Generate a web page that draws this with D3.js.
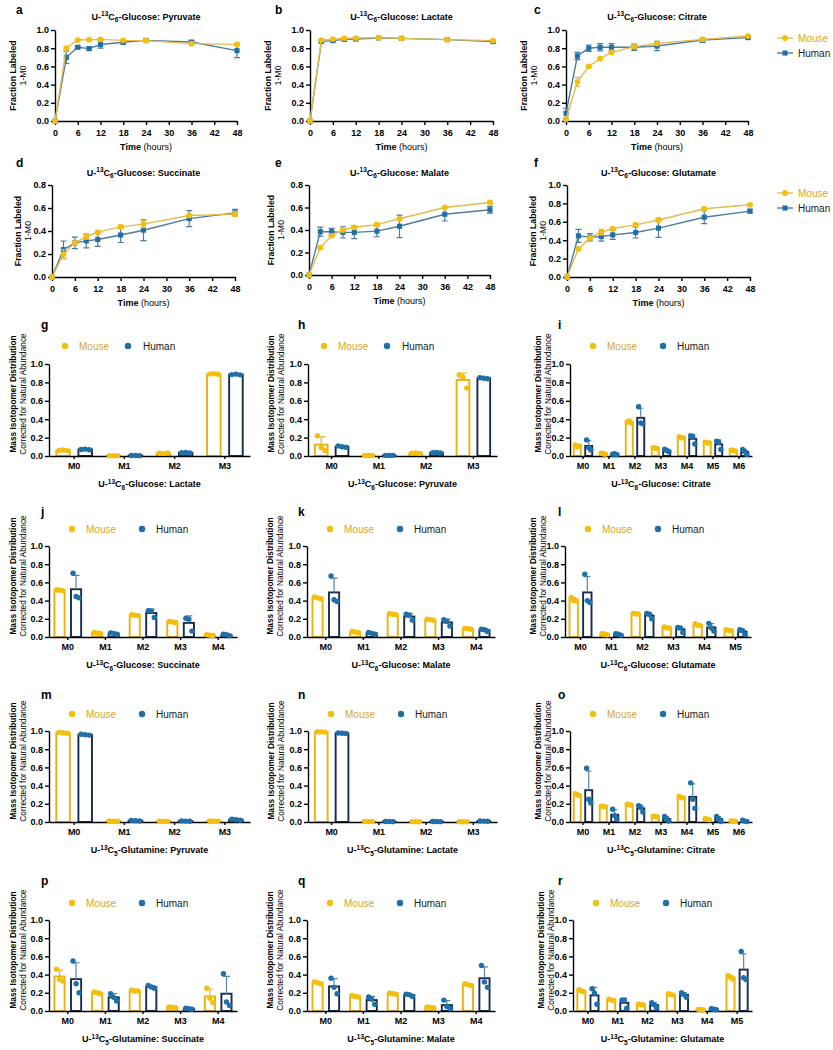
<!DOCTYPE html>
<html>
<head>
<meta charset="utf-8">
<script src="https://cdn.jsdelivr.net/npm/d3@7"></script>
<style>
body { margin: 0; background: #fff; }
.axis path, .axis line { stroke: #000; stroke-width: 1.4; }
.axis text { font-size: 9px; font-weight: bold; fill: #000; font-family: "Liberation Sans", Arial, sans-serif; }
</style>
</head>
<body>
<div id="fig"></div>
<script>
// ---- data ----
var hours = [0, 3, 6, 9, 12, 18, 24, 36, 48];
var hourTicks = [0, 6, 12, 18, 24, 30, 36, 42, 48];
var isotopologues = ["M0", "M1", "M2", "M3", "M4", "M5", "M6"];

// U-13C6-glucose time courses, fraction labeled (1-M0), mean and SD
var pyruvateMouse = [0, 0.80, 0.89, 0.894, 0.897, 0.886, 0.883, 0.85, 0.842];
var pyruvateMouseSd = [0, 0.012, 0.008, 0.006, 0.006, 0.008, 0.006, 0.008, 0.012];
var pyruvateHuman = [0, 0.70, 0.81, 0.795, 0.84, 0.865, 0.886, 0.868, 0.773];
var pyruvateHumanSd = [0, 0.068, 0.012, 0.02, 0.04, 0.02, 0.012, 0.015, 0.077];

var lactateMouse = [0, 0.89, 0.90, 0.908, 0.912, 0.916, 0.908, 0.894, 0.883];
var lactateMouseSd = [0, 0.01, 0.008, 0.008, 0.008, 0.008, 0.008, 0.008, 0.008];
var lactateHuman = [0, 0.875, 0.883, 0.897, 0.90, 0.912, 0.908, 0.894, 0.872];
var lactateHumanSd = [0, 0.012, 0.01, 0.01, 0.01, 0.008, 0.008, 0.008, 0.01];

var citrateMouse = [0.02, 0.43, 0.60, 0.685, 0.755, 0.817, 0.853, 0.897, 0.934];
var citrateMouseSd = [0.01, 0.05, 0.01, 0.01, 0.01, 0.01, 0.015, 0.01, 0.01];
var citrateHuman = [0.085, 0.714, 0.80, 0.81, 0.81, 0.81, 0.824, 0.89, 0.916];
var citrateHumanSd = [0.055, 0.04, 0.035, 0.04, 0.04, 0.035, 0.05, 0.025, 0.01];

var succinateMouse = [0, 0.198, 0.297, 0.35, 0.39, 0.436, 0.46, 0.535, 0.547];
var succinateMouseSd = [0, 0.04, 0.01, 0.02, 0.01, 0.015, 0.03, 0.01, 0.02];
var succinateHuman = [0, 0.238, 0.297, 0.314, 0.326, 0.365, 0.407, 0.508, 0.558];
var succinateHumanSd = [0, 0.075, 0.05, 0.06, 0.06, 0.065, 0.09, 0.07, 0.03];

var malateMouse = [0, 0.244, 0.351, 0.40, 0.424, 0.448, 0.50, 0.60, 0.645];
var malateMouseSd = [0, 0.01, 0.01, 0.01, 0.01, 0.015, 0.01, 0.01, 0.01];
var malateHuman = [0, 0.385, 0.385, 0.379, 0.379, 0.39, 0.433, 0.54, 0.58];
var malateHumanSd = [0, 0.04, 0.03, 0.05, 0.055, 0.05, 0.1, 0.06, 0.03];

var glutamateMouse = [0, 0.305, 0.425, 0.487, 0.527, 0.567, 0.62, 0.742, 0.785];
var glutamateMouseSd = [0, 0.01, 0.01, 0.03, 0.01, 0.02, 0.02, 0.01, 0.01];
var glutamateHuman = [0, 0.447, 0.433, 0.44, 0.458, 0.484, 0.531, 0.65, 0.716];
var glutamateHumanSd = [0, 0.07, 0.04, 0.05, 0.05, 0.06, 0.1, 0.07, 0.02];

// mass isotopomer distributions, three replicates per isotopologue
var glcLactateMouse = [[0.060, 0.065, 0.058], [0.002, 0.003, 0.004], [0.030, 0.028, 0.032], [0.890, 0.895, 0.888]];
var glcLactateHuman = [[0.070, 0.075, 0.068], [0.005, 0.006, 0.004], [0.035, 0.038, 0.033], [0.885, 0.890, 0.882]];
var glcPyruvateMouse = [[0.22, 0.09, 0.06], [0.004, 0.005, 0.006], [0.030, 0.032, 0.028], [0.88, 0.86, 0.74]];
var glcPyruvateHuman = [[0.110, 0.100, 0.095], [0.006, 0.005, 0.007], [0.035, 0.038, 0.032], [0.850, 0.845, 0.840]];
var glcCitrateMouse = [[0.12, 0.10, 0.11], [0.03, 0.025, 0.02], [0.37, 0.38, 0.36], [0.09, 0.085, 0.08], [0.21, 0.20, 0.195], [0.15, 0.14, 0.145], [0.065, 0.06, 0.055]];
var glcCitrateHuman = [[0.175, 0.09, 0.065], [0.02, 0.025, 0.015], [0.535, 0.36, 0.35], [0.075, 0.06, 0.045], [0.22, 0.21, 0.13], [0.16, 0.15, 0.07], [0.07, 0.05, 0.015]];
var glcSuccinateMouse = [[0.52, 0.515, 0.51], [0.05, 0.045, 0.04], [0.245, 0.24, 0.235], [0.17, 0.165, 0.16], [0.025, 0.02, 0.015]];
var glcSuccinateHuman = [[0.70, 0.445, 0.43], [0.045, 0.04, 0.03], [0.29, 0.285, 0.215], [0.205, 0.195, 0.065], [0.03, 0.025, 0.015]];
var glcMalateMouse = [[0.44, 0.43, 0.42], [0.06, 0.055, 0.05], [0.255, 0.25, 0.245], [0.195, 0.19, 0.185], [0.095, 0.09, 0.085]];
var glcMalateHuman = [[0.67, 0.41, 0.39], [0.05, 0.04, 0.03], [0.25, 0.24, 0.185], [0.19, 0.17, 0.12], [0.085, 0.08, 0.06]];
var glcGlutamateMouse = [[0.435, 0.40, 0.395], [0.035, 0.03, 0.025], [0.26, 0.255, 0.25], [0.11, 0.10, 0.10], [0.145, 0.13, 0.125], [0.08, 0.075, 0.07]];
var glcGlutamateHuman = [[0.69, 0.40, 0.38], [0.035, 0.03, 0.02], [0.26, 0.25, 0.20], [0.105, 0.10, 0.05], [0.15, 0.10, 0.065], [0.08, 0.07, 0.03]];

var glnPyruvateMouse = [[0.985, 0.98, 0.975], [0.012, 0.01, 0.008], [0.01, 0.008, 0.006], [0.012, 0.01, 0.008]];
var glnPyruvateHuman = [[0.965, 0.96, 0.955], [0.018, 0.015, 0.012], [0.012, 0.01, 0.008], [0.03, 0.025, 0.02]];
var glnLactateMouse = [[0.992, 0.99, 0.988], [0.006, 0.005, 0.004], [0.004, 0.003, 0.002], [0.004, 0.003, 0.002]];
var glnLactateHuman = [[0.978, 0.975, 0.972], [0.006, 0.005, 0.004], [0.006, 0.005, 0.004], [0.012, 0.01, 0.008]];
var glnCitrateMouse = [[0.31, 0.30, 0.29], [0.175, 0.17, 0.165], [0.195, 0.19, 0.185], [0.065, 0.06, 0.055], [0.28, 0.27, 0.265], [0.035, 0.03, 0.025], [0.012, 0.01, 0.008]];
var glnCitrateHuman = [[0.59, 0.25, 0.21], [0.14, 0.07, 0.03], [0.18, 0.16, 0.11], [0.06, 0.03, 0.01], [0.43, 0.25, 0.15], [0.06, 0.03, 0.005], [0.02, 0.01, 0.005]];
var glnSuccinateMouse = [[0.46, 0.35, 0.33], [0.21, 0.20, 0.19], [0.23, 0.22, 0.22], [0.045, 0.04, 0.035], [0.25, 0.14, 0.09]];
var glnSuccinateHuman = [[0.55, 0.30, 0.20], [0.19, 0.15, 0.11], [0.28, 0.265, 0.25], [0.03, 0.025, 0.02], [0.41, 0.10, 0.06]];
var glnMalateMouse = [[0.32, 0.31, 0.30], [0.17, 0.16, 0.155], [0.195, 0.19, 0.185], [0.045, 0.04, 0.035], [0.30, 0.29, 0.28]];
var glnMalateHuman = [[0.36, 0.26, 0.19], [0.155, 0.13, 0.075], [0.185, 0.18, 0.16], [0.12, 0.05, 0.025], [0.50, 0.32, 0.26]];
var glnGlutamateMouse = [[0.235, 0.22, 0.21], [0.13, 0.12, 0.115], [0.075, 0.07, 0.065], [0.19, 0.18, 0.175], [0.018, 0.015, 0.012], [0.39, 0.37, 0.35]];
var glnGlutamateHuman = [[0.245, 0.195, 0.075], [0.12, 0.12, 0.03], [0.09, 0.07, 0.035], [0.2, 0.18, 0.15], [0.025, 0.02, 0.015], [0.655, 0.365, 0.345]];

// ---- colours ----
var mouseDot = "#F4BF0C", humanDot = "#1F6FA8",
  mouseLine = "#E2BD4E", humanLine = "#4E7C9E",
  mouseBar = "#EBB20E", humanBar = "#172B4A",
  mouseErr = "#E6B43A", humanErr = "#5A84A8",
  mouseText = "#D6A62A";

var font = "'Liberation Sans', Arial, Helvetica, sans-serif";

var svg = d3.select("#fig").append("svg")
  .attr("width", 833)
  .attr("height", 1050)
  .style("font-family", font);

function panelLetter(x, y, t) {
  svg.append("text")
    .attr("x", x).attr("y", y)
    .attr("font-size", "12px")
    .attr("font-weight", "bold")
    .text(t);
}

function tracerTitle(text, tracer, metab) {
  var n = tracer === "Glucose" ? "6" : "5";
  text.append("tspan").text("U-");
  text.append("tspan").attr("font-size", "6.5px").attr("dy", -3.5).text("13");
  text.append("tspan").attr("dy", 3.5).text("C");
  text.append("tspan").attr("font-size", "6.5px").attr("dy", 2.5).text(n);
  text.append("tspan").attr("dy", -2.5).text("-" + tracer + ": " + metab);
}

function rotatedLabel(x, y, str, bold, size) {
  svg.append("text")
    .attr("transform", "translate(" + x + "," + y + ") rotate(-90)")
    .attr("text-anchor", "middle")
    .attr("font-size", size)
    .attr("font-weight", bold ? "bold" : "normal")
    .text(str);
}

// ---- line charts (a-f) ----
function linePanel(p) {
  var x = d3.scaleLinear().domain([0, 48]).range([p.x0, p.x1]);
  var y = d3.scaleLinear().domain([0, p.ymax]).range([p.y1, p.y0]);

  panelLetter(p.lx, p.ly, p.letter);

  var title = svg.append("text")
    .attr("x", (p.x0 + p.x1) / 2)
    .attr("y", p.ty)
    .attr("text-anchor", "middle")
    .attr("font-size", "9px")
    .attr("font-weight", "bold");
  tracerTitle(title, "Glucose", p.metab);

  svg.append("g").attr("class", "axis")
    .attr("transform", "translate(0," + p.y1 + ")")
    .call(d3.axisBottom(x).tickValues(hourTicks).tickSize(4).tickSizeOuter(0).tickPadding(5));
  svg.append("g").attr("class", "axis")
    .attr("transform", "translate(" + p.x0 + ",0)")
    .call(d3.axisLeft(y).tickValues(d3.range(0, p.ymax + 0.001, 0.2))
      .tickFormat(d3.format(".1f")).tickSize(4).tickSizeOuter(0).tickPadding(2));

  var xl = svg.append("text")
    .attr("x", (p.x0 + p.x1) / 2)
    .attr("y", p.y1 + 29)
    .attr("text-anchor", "middle")
    .attr("font-size", "9px");
  xl.append("tspan").attr("font-weight", "bold").text("Time ");
  xl.append("tspan").text("(hours)");

  rotatedLabel(p.x0 + p.lab[0], (p.y0 + p.y1) / 2, "Fraction Labeled", true, "8.8px");
  rotatedLabel(p.x0 + p.lab[1], (p.y0 + p.y1) / 2, "1-M0", false, "8.8px");

  var series = [
    { v: p.human, sd: p.humanSd, line: humanLine, fill: humanDot, sym: d3.symbolSquare },
    { v: p.mouse, sd: p.mouseSd, line: mouseLine, fill: mouseDot, sym: d3.symbolCircle }
  ];
  series.forEach(function (s) {
    var pts = hours.map(function (h, i) { return { t: h, v: s.v[i], sd: s.sd[i] }; });
    var g = svg.append("g");
    g.append("path").datum(pts)
      .attr("fill", "none")
      .attr("stroke", s.line)
      .attr("stroke-width", 1.4)
      .attr("d", d3.line().x(function (d) { return x(d.t); }).y(function (d) { return y(d.v); }));
    g.selectAll(".eb").data(pts.filter(function (d) { return d.sd > 0; }))
      .enter().append("path")
      .attr("fill", "none")
      .attr("stroke", s.line)
      .attr("stroke-width", 1.2)
      .attr("d", function (d) {
        var cx = x(d.t), hi = y(d.v + d.sd), lo = y(Math.max(0, d.v - d.sd));
        return "M" + (cx - 3) + "," + hi + "h6M" + cx + "," + hi + "V" + lo + "M" + (cx - 3) + "," + lo + "h6";
      });
    g.selectAll(".mk").data(pts).enter().append("path")
      .attr("transform", function (d) { return "translate(" + x(d.t) + "," + y(d.v) + ")"; })
      .attr("d", d3.symbol().type(s.sym).size(26))
      .attr("fill", s.fill);
  });

  if (p.legend) {
    [{ name: "Mouse", line: mouseLine, fill: mouseDot, sym: d3.symbolCircle, col: mouseText },
     { name: "Human", line: humanLine, fill: humanDot, sym: d3.symbolSquare, col: "#1a1a1a" }]
      .forEach(function (l, i) {
        var ly = p.legend + i * 15;
        svg.append("line").attr("x1", 777).attr("x2", 793).attr("y1", ly).attr("y2", ly)
          .attr("stroke", l.line).attr("stroke-width", 1.4);
        svg.append("path").attr("transform", "translate(785," + ly + ")")
          .attr("d", d3.symbol().type(l.sym).size(26)).attr("fill", l.fill);
        svg.append("text").attr("x", 798).attr("y", ly).attr("dy", "0.35em")
          .attr("font-size", "10px").attr("fill", l.col).text(l.name);
      });
  }
}

var linePanels = [
  { letter: "a", metab: "Pyruvate", mouse: pyruvateMouse, mouseSd: pyruvateMouseSd, human: pyruvateHuman, humanSd: pyruvateHumanSd,
    x0: 55, x1: 237, y0: 30, y1: 121, ymax: 1, lx: 16, ly: 14, ty: 19.5, lab: [-39, -29] },
  { letter: "b", metab: "Lactate", mouse: lactateMouse, mouseSd: lactateMouseSd, human: lactateHuman, humanSd: lactateHumanSd,
    x0: 310, x1: 493, y0: 30, y1: 121, ymax: 1, lx: 275, ly: 14, ty: 19.5, lab: [-39, -29] },
  { letter: "c", metab: "Citrate", mouse: citrateMouse, mouseSd: citrateMouseSd, human: citrateHuman, humanSd: citrateHumanSd,
    x0: 566, x1: 748, y0: 30, y1: 121, ymax: 1, lx: 534, ly: 14, ty: 19.5, lab: [-39, -29], legend: 38 },
  { letter: "d", metab: "Succinate", mouse: succinateMouse, mouseSd: succinateMouseSd, human: succinateHuman, humanSd: succinateHumanSd,
    x0: 52, x1: 235, y0: 185, y1: 277, ymax: 0.8, lx: 16, ly: 167, ty: 175.5, lab: [-31, -21] },
  { letter: "e", metab: "Malate", mouse: malateMouse, mouseSd: malateMouseSd, human: malateHuman, humanSd: malateHumanSd,
    x0: 309, x1: 490, y0: 185, y1: 275, ymax: 0.8, lx: 275, ly: 167, ty: 175.5, lab: [-35, -25] },
  { letter: "f", metab: "Glutamate", mouse: glutamateMouse, mouseSd: glutamateMouseSd, human: glutamateHuman, humanSd: glutamateHumanSd,
    x0: 567, x1: 750, y0: 185, y1: 277, ymax: 1, lx: 534, ly: 167, ty: 175.5, lab: [-31, -21], legend: 193 }
];
linePanels.forEach(linePanel);

// ---- bar charts (g-r) ----
var barRows = [
  { letter: 329, legend: 346, top: 364, bottom: 456 },
  { letter: 516, legend: 529, top: 546, bottom: 637 },
  { letter: 699, legend: 714, top: 731, bottom: 822 },
  { letter: 885, legend: 903, top: 920, bottom: 1011 }
];

function barPanel(p) {
  var row = barRows[p.row];
  var cats = isotopologues.slice(0, p.mouse.length);
  var x = d3.scaleBand().domain(cats).range([p.x0, p.x1]);
  var y = d3.scaleLinear().domain([0, 1]).range([row.bottom, row.top]);
  var bw = x.bandwidth(), barW = bw * 0.27, off = bw * 0.22;

  panelLetter(p.lx, row.letter, p.letter);

  // legend
  var lg = p.leg;
  svg.append("circle").attr("cx", p.x0 + lg[0]).attr("cy", row.legend).attr("r", 3.2).attr("fill", mouseDot);
  svg.append("text").attr("x", p.x0 + lg[1]).attr("y", row.legend).attr("dy", "0.35em")
    .attr("font-size", "10px").attr("fill", mouseText).text("Mouse");
  svg.append("circle").attr("cx", p.x0 + lg[2]).attr("cy", row.legend).attr("r", 3.2).attr("fill", humanDot);
  svg.append("text").attr("x", p.x0 + lg[3]).attr("y", row.legend).attr("dy", "0.35em")
    .attr("font-size", "10px").attr("fill", "#1a1a1a").text("Human");

  var groups = [
    { reps: p.mouse, side: -1, stroke: mouseBar, dot: mouseDot, err: mouseErr },
    { reps: p.human, side: 1, stroke: humanBar, dot: humanDot, err: humanErr }
  ];
  var data = groups.map(function (s) {
    return s.reps.map(function (r, i) {
      return { cat: cats[i], mean: d3.mean(r), sd: d3.deviation(r), reps: r,
        cx: x(cats[i]) + bw / 2 + s.side * off, s: s };
    });
  });

  data.forEach(function (d) {
    svg.append("g").selectAll("rect").data(d).enter().append("rect")
      .attr("x", function (e) { return e.cx - barW / 2; })
      .attr("y", function (e) { return y(e.mean); })
      .attr("width", barW)
      .attr("height", function (e) { return row.bottom - y(e.mean); })
      .attr("fill", "#fff")
      .attr("stroke", function (e) { return e.s.stroke; })
      .attr("stroke-width", 1.9);
  });

  svg.append("g").attr("class", "axis")
    .attr("transform", "translate(0," + row.bottom + ")")
    .call(d3.axisBottom(x).tickSize(3).tickSizeOuter(0).tickPadding(4));
  svg.append("g").attr("class", "axis")
    .attr("transform", "translate(" + p.x0 + ",0)")
    .call(d3.axisLeft(y).tickValues(d3.range(0, 1.001, 0.2))
      .tickFormat(d3.format(".1f")).tickSize(4).tickSizeOuter(0).tickPadding(2));

  data.forEach(function (d) {
    var g = svg.append("g");
    g.selectAll(".eb").data(d).enter().append("path")
      .attr("fill", "none")
      .attr("stroke", function (e) { return e.s.err; })
      .attr("stroke-width", 1.2)
      .attr("d", function (e) {
        var hi = y(e.mean + e.sd), cw = barW * 0.35;
        return "M" + e.cx + "," + y(e.mean) + "V" + hi + "M" + (e.cx - cw) + "," + hi + "H" + (e.cx + cw);
      });
    d.forEach(function (e) {
      g.selectAll(null).data(e.reps).enter().append("circle")
        .attr("cx", function (v, j) { return e.cx + (j - 1) * barW * 0.3; })
        .attr("cy", function (v) { return y(v); })
        .attr("r", 2.7)
        .attr("fill", e.s.dot);
    });
  });

  var title = svg.append("text")
    .attr("x", (p.x0 + p.x1) / 2)
    .attr("y", row.bottom + 31)
    .attr("text-anchor", "middle")
    .attr("font-size", "9px")
    .attr("font-weight", "bold");
  tracerTitle(title, p.tracer, p.metab);

  var cy = row.top + 30;
  rotatedLabel(p.x0 + p.lab[0], cy, "Mass Isotopomer Distribution", true, "8.3px");
  rotatedLabel(p.x0 + p.lab[1], cy, "Corrected for Natural  Abundance", false, "8.3px");
}

var legA = [16, 30, 79, 94], legB = [23, 37, 93, 107];
var labL = [-33, -23], labM = [-34, -24], labR = [-29, -19];

var barPanels = [
  { letter: "g", row: 0, tracer: "Glucose", metab: "Lactate", mouse: glcLactateMouse, human: glcLactateHuman, x0: 49, x1: 250, lx: 41, leg: legA, lab: labL },
  { letter: "h", row: 0, tracer: "Glucose", metab: "Pyruvate", mouse: glcPyruvateMouse, human: glcPyruvateHuman, x0: 308, x1: 497, lx: 298, leg: legA, lab: labM },
  { letter: "i", row: 0, tracer: "Glucose", metab: "Citrate", mouse: glcCitrateMouse, human: glcCitrateHuman, x0: 570, x1: 752, lx: 558, leg: legB, lab: labR },
  { letter: "j", row: 1, tracer: "Glucose", metab: "Succinate", mouse: glcSuccinateMouse, human: glcSuccinateHuman, x0: 49, x1: 237, lx: 41, leg: legB, lab: labL },
  { letter: "k", row: 1, tracer: "Glucose", metab: "Malate", mouse: glcMalateMouse, human: glcMalateHuman, x0: 307, x1: 495, lx: 298, leg: legB, lab: labM },
  { letter: "l", row: 1, tracer: "Glucose", metab: "Glutamate", mouse: glcGlutamateMouse, human: glcGlutamateHuman, x0: 565, x1: 751, lx: 558, leg: legB, lab: labR },
  { letter: "m", row: 2, tracer: "Glutamine", metab: "Pyruvate", mouse: glnPyruvateMouse, human: glnPyruvateHuman, x0: 49, x1: 250, lx: 41, leg: legB, lab: labL },
  { letter: "n", row: 2, tracer: "Glutamine", metab: "Lactate", mouse: glnLactateMouse, human: glnLactateHuman, x0: 308, x1: 497, lx: 298, leg: legB, lab: labM },
  { letter: "o", row: 2, tracer: "Glutamine", metab: "Citrate", mouse: glnCitrateMouse, human: glnCitrateHuman, x0: 570, x1: 752, lx: 558, leg: legB, lab: labR },
  { letter: "p", row: 3, tracer: "Glutamine", metab: "Succinate", mouse: glnSuccinateMouse, human: glnSuccinateHuman, x0: 49, x1: 237, lx: 41, leg: legB, lab: labL },
  { letter: "q", row: 3, tracer: "Glutamine", metab: "Malate", mouse: glnMalateMouse, human: glnMalateHuman, x0: 307, x1: 495, lx: 298, leg: legB, lab: labM },
  { letter: "r", row: 3, tracer: "Glutamine", metab: "Glutamate", mouse: glnGlutamateMouse, human: glnGlutamateHuman, x0: 573, x1: 752, lx: 558, leg: legB, lab: labR }
];
barPanels.forEach(barPanel);
</script>
</body>
</html>
